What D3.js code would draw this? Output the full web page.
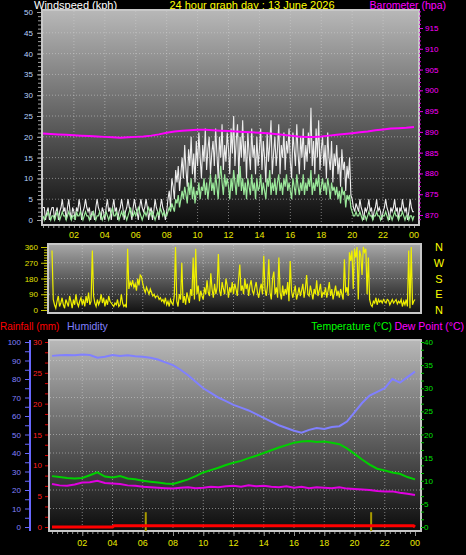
<!DOCTYPE html>
<html><head><meta charset="utf-8">
<script src="https://cdn.jsdelivr.net/npm/d3@7"></script>
<style>body{margin:0;background:#000;overflow:hidden} svg{display:block}</style>
</head><body><svg id="c" width="466" height="555"></svg>
<script>
// ---------- DATA ----------
const title = "24 hour graph day : 13 June 2026";
const hourTicks = [2,4,6,8,10,12,14,16,18,20,22,24];
const hourLabels = ["02","04","06","08","10","12","14","16","18","20","22","00"];
const compass = ["N","W","S","E","N"];
const compassDeg = [360,270,180,90,0];

// wind, 5-minute samples (kph)
const windGust = [
3,3,0,2,3,0,2,3,3,0,2,3, 0,2,3,5,2,3,0,3,5,2,0,3, 2,0,3,2,5,3,0,2,3,5,3,2,
3,0,2,2,0,3,5,3,2,0,3,2, 0,3,5,2,3,0,3,5,2,3,0,2, 3,5,3,0,2,3,5,3,2,0,3,5,
3,2,0,3,5,3,2,3,5,3,0,2, 3,0,2,5,3,2,0,3,5,3,2,0, 2,5,7,3,10,8,5,12,9,13,7,11,
15,10,18,12,8,17,13,20,11,16,9,19, 13,21,15,10,18,14,22,12,17,20,11,16,
19,13,22,16,10,20,15,23,12,18,14,21, 17,11,22,16,25,13,19,23,10,20,15,24,
14,19,10,21,16,12,22,15,18,11,20,13, 17,22,12,19,15,9,21,14,18,24,11,16,
20,13,17,23,11,18,15,21,12,19,16,22, 14,10,21,17,13,23,16,11,20,15,22,12,
18,14,21,16,27,13,19,11,22,15,24,12, 17,20,13,18,10,21,15,12,19,9,16,13,
18,11,15,8,17,12,14,7,13,10,15,6, 5,3,2,4,3,2,5,3,2,0,3,2,
3,5,2,3,0,2,3,5,2,3,2,0, 2,3,5,3,2,0,3,2,3,5,2,3, 0,3,2,5,3,2,3,0,2,5,3,2, 2];
const windAvg = [
1,0,1,1,2,1,0,1,1,0,1,2, 1,0,1,2,1,1,0,1,2,1,0,1, 1,0,2,1,1,2,1,0,1,2,1,1,
0,1,1,2,1,0,1,1,2,1,0,1, 1,2,1,0,1,2,3,1,1,2,1,0, 1,2,1,2,1,0,1,2,3,1,1,2,
1,2,3,2,1,0,1,2,1,2,3,2, 1,2,1,0,1,2,1,3,2,1,2,1, 1,2,3,2,4,3,2,5,4,6,3,5,
7,5,8,6,4,9,6,10,5,8,4,7, 6,9,5,8,7,10,6,9,5,8,11,7, 9,6,11,8,5,10,13,9,6,11,8,10,
8,5,10,7,12,9,6,11,8,13,7,10, 6,9,5,10,8,6,11,7,9,5,10,7, 8,11,6,9,7,5,10,8,12,6,9,7,
10,6,9,11,7,9,6,10,8,11,7,9, 7,5,10,8,6,11,8,6,9,7,11,6, 9,7,10,8,12,6,9,7,10,8,11,6,
8,10,7,9,6,10,8,5,9,7,8,6, 8,5,7,4,8,6,7,3,6,5,6,3, 2,1,1,2,1,1,2,1,0,1,1,0,
1,2,1,1,0,1,1,2,1,1,0,1, 1,1,2,1,0,1,1,0,1,2,1,1, 0,1,1,2,1,0,1,1,0,1,1,0, 1];
// wind direction, 5-minute samples (degrees)
const windDir = [
340,60,30,10,50,80,20,40,70,30,10,60, 40,20,80,50,10,60,30,90,40,20,50,70,
30,60,20,80,40,100,30,50,340,80,40,20, 60,30,50,90,40,70,20,60,30,80,50,40,
30,20,40,30,60,20,30,90,40,20,30,15, 350,120,160,140,170,130,150,110,180,140,200,190,
150,120,100,130,110,90,120,100,80,90,70,80, 80,60,70,50,60,40,70,30,50,20,60,40,
30,80,360,50,20,90,60,270,40,80,30,100, 70,40,120,80,300,60,350,90,140,50,110,80,
60,130,90,170,100,80,210,120,70,150,90,130, 320,110,80,160,120,90,180,140,70,130,100,160,
90,150,120,80,170,260,110,140,90,180,120,150, 80,140,170,110,90,130,160,100,70,120,150,90,
310,120,80,140,290,100,60,180,220,90,130,70, 300,100,60,140,80,120,90,160,50,280,110,70,
100,140,60,90,130,80,110,150,70,120,200,90, 80,140,100,60,120,90,170,80,110,150,70,100,
90,130,70,110,160,80,120,60,100,140,80,110, 70,120,90,60,290,100,130,80,330,280,340,120,
350,300,360,60,340,310,200,360,330,350,90,300, 60,30,20,50,40,70,30,60,45,55,40,60,
50,40,60,55,30,45,60,40,50,60,35,50, 40,60,20,50,30,60,20,340,10,360,30,50, 60];

// 30-minute samples
const baro = [889.6,889.5,889.4,889.3,889.2,889.1,889.0,888.9,888.8,888.7,888.6,888.7,888.8,888.9,889.1,889.4,
889.8,890.1,890.3,890.4,890.5,890.5,890.4,890.3,890.2,890.1,890.0,889.9,889.8,889.7,889.5,889.3,
889.1,888.9,888.8,888.8,888.9,889.1,889.3,889.5,889.7,889.9,890.1,890.4,890.6,890.8,890.9,891.0,891.2];
const humidity = [92.5,92.8,93,92.8,93.2,93,91.5,92,93,92.5,92.8,92.3,92,91.5,90.5,89,
87.5,85,82,78.5,75,72.5,70,68,66,64.5,63,61,59,57,55,53.5,
52,51,52.5,53.5,53,54,54.5,57,62,67,71,73,75,80,78,81,84];
const temperature = [11.0,10.8,10.6,10.5,10.6,11.2,11.8,10.9,10.7,11.0,10.5,10.3,10.0,9.8,9.6,9.4,
9.3,9.8,10.3,11.0,11.8,12.3,12.8,13.4,13.9,14.3,14.9,15.4,16.0,16.6,17.2,17.7,
18.2,18.5,18.6,18.4,18.5,18.2,17.9,17.0,15.8,14.6,13.5,12.6,12.2,11.8,11.5,10.8,10.3];
const dewPoint = [9.3,9.0,8.9,9.2,9.6,9.7,10.0,9.5,9.4,9.3,9.0,8.9,8.7,8.6,8.5,8.4,
8.3,8.5,8.6,8.4,8.5,8.7,8.6,8.8,8.9,8.7,9.0,8.8,8.9,8.7,8.6,8.8,
8.5,8.7,8.4,8.6,8.5,8.4,8.6,8.3,8.2,8.1,8.0,7.8,7.7,7.7,7.4,7.2,6.9];
// rainfall total (mm)
const rainHours = [0,4,4.1,23.9,24];
const rainTotal = [0,0,0.2,0.2,0];
// rain rate bars
const rateHours = [6.2,21.1];
const rateValues = [2.4,2.4];

// ---------- DRAW ----------
const svg = d3.select("#c");
const FONT = "'Liberation Sans', Arial, sans-serif";
const defs = svg.append("defs");
function grad(id, c0, c1){
  const g = defs.append("linearGradient").attr("id",id).attr("x1",0).attr("y1",0).attr("x2",0).attr("y2",1);
  g.append("stop").attr("offset","0%").attr("stop-color",c0);
  g.append("stop").attr("offset","100%").attr("stop-color",c1);
}
grad("g1","#b8b8b8","#0c0c0c");
grad("g2","#a8a8a8","#101010");
grad("g3","#b8b8b8","#0c0c0c");

function panel(x,y,w,h,id){
  svg.append("rect").attr("x",x).attr("y",y).attr("width",w).attr("height",h)
    .attr("fill",`url(#${id})`).attr("stroke","#c8c8c8").attr("stroke-width",2);
}
function txt(x,y,s,col,size,anchor){
  return svg.append("text").attr("x",x).attr("y",y).text(s).attr("fill",col)
    .attr("font-size",size).attr("font-family",FONT).attr("text-anchor",anchor||"start");
}
function gridV(xs, y0, y1){
  svg.append("g").selectAll("line").data(hourTicks.slice(0,-1)).join("line")
    .attr("x1",d=>xs(d)).attr("x2",d=>xs(d)).attr("y1",y0).attr("y2",y1)
    .attr("stroke","#d0d0d0").attr("stroke-opacity",0.55).attr("stroke-dasharray","1,2");
}
function gridH(ys, vals, x0, x1){
  svg.append("g").selectAll("line").data(vals).join("line")
    .attr("y1",d=>ys(d)).attr("y2",d=>ys(d)).attr("x1",x0).attr("x2",x1)
    .attr("stroke","#d0d0d0").attr("stroke-opacity",0.55).attr("stroke-dasharray","1,2");
}
function ticks(axisFn, scale, vals, size, tx, ty, col){
  const g = svg.append("g").attr("transform",`translate(${tx},${ty})`)
    .call(axisFn(scale).tickValues(vals).tickSize(size).tickFormat(""));
  g.select(".domain").remove();
  g.selectAll("line").attr("stroke",col);
  return g;
}
const t5 = i => i*5/60, t30 = i => i*0.5;

// titles
txt(34,9,"Windspeed (kph)","#ffffff",11);
txt(252,9,title,"#ffff00",11,"middle");
txt(446,9,"Barometer (hpa)","#ff00ff",10.5,"end");

// ===== TOP CHART =====
const xTop = d3.scaleLinear([0,24],[43,414]);
const yWind = d3.scaleLinear([0,50],[220,12]);
const yBaro = d3.scaleLinear([870,915],[215,28]);
panel(42,10,377,215,"g1");
gridV(xTop,11,224);
gridH(yWind,d3.range(5,50,5),43,418);
ticks(d3.axisLeft, yWind, d3.range(0,51,1), 3, 41, 0, "#a0a0a0");
ticks(d3.axisLeft, yWind, d3.range(0,51,5), 4, 41, 0, "#a0a0a0");
svg.append("g").selectAll("text").data(d3.range(0,51,5)).join("text")
  .attr("x",33).attr("y",d=>yWind(d)+3).text(d=>d).attr("fill","#b8d4ff")
  .attr("font-size",8).attr("font-family",FONT).attr("text-anchor","end");
ticks(d3.axisRight, yBaro, d3.range(869,920,1), 2, 419, 0, "#e000e0");
ticks(d3.axisRight, yBaro, d3.range(870,916,5), 4, 419, 0, "#e000e0");
svg.append("g").selectAll("text").data(d3.range(870,916,5)).join("text")
  .attr("x",425).attr("y",d=>yBaro(d)+3).text(d=>d).attr("fill","#ff00ff")
  .attr("font-size",8).attr("font-family",FONT);
ticks(d3.axisBottom, xTop, d3.range(0,24.01,1/3), 2, 0, 226, "#909090");
svg.append("g").selectAll("text").data(hourTicks).join("text")
  .attr("x",d=>xTop(d)).attr("y",238).text((d,i)=>hourLabels[i]).attr("fill","#e8e800")
  .attr("font-size",9).attr("font-family",FONT).attr("text-anchor","middle");
svg.append("path").datum(windGust).attr("fill","none").attr("stroke","#ececec").attr("stroke-width",1.1)
  .attr("d",d3.line().x((d,i)=>xTop(t5(i))).y(d=>yWind(d)));
svg.append("path").datum(windAvg).attr("fill","none").attr("stroke","#9ae89a").attr("stroke-width",1.2)
  .attr("d",d3.line().x((d,i)=>xTop(t5(i))).y(d=>yWind(d)));
svg.append("path").datum(baro).attr("fill","none").attr("stroke","#ff00ff").attr("stroke-width",2)
  .attr("d",d3.line().x((d,i)=>xTop(t30(i))).y(d=>yBaro(d)));

// ===== MIDDLE CHART =====
const xMid = d3.scaleLinear([0,24],[52,415]);
const yDir = d3.scaleLinear([0,360],[310,247]);
panel(48,244,373,69,"g2");
gridV(xMid,245,312);
gridH(yDir,[90,180,270],49,420);
ticks(d3.axisLeft, yDir, d3.range(0,361,15), 3, 47, 0, "#c8c800");
ticks(d3.axisLeft, yDir, d3.range(0,361,90), 6, 47, 0, "#c8c800");
svg.append("g").selectAll("text").data(d3.range(0,361,90)).join("text")
  .attr("x",38).attr("y",d=>yDir(d)+3).text(d=>d).attr("fill","#e0e000")
  .attr("font-size",8).attr("font-family",FONT).attr("text-anchor","end");
svg.append("g").selectAll("text").data(compassDeg).join("text")
  .attr("x",439).attr("y",d=>yDir(d)+4).text((d,i)=>compass[i]).attr("fill","#ffff00")
  .attr("font-size",11).attr("font-family",FONT).attr("text-anchor","middle");
svg.append("path").datum(windDir).attr("fill","none").attr("stroke","#f0f000").attr("stroke-width",1.2)
  .attr("d",d3.line().x((d,i)=>xMid(t5(i))).y(d=>yDir(d)));

// ===== BOTTOM CHART =====
const xBot = d3.scaleLinear([0,24],[52,415]);
const yHum = d3.scaleLinear([0,100],[527,342]);
const yRain = d3.scaleLinear([0,30],[527,342]);
const yTemp = d3.scaleLinear([0,40],[527,342]);
txt(0,330,"Rainfall (mm)","#ff0000",10);
txt(67,330,"Humidity","#8080ff",10.5);
txt(392,330,"Temperature (°C)","#00ff00",10.5,"end");
txt(464,330,"Dew Point (°C)","#ff00ff",10.5,"end");
panel(49,340,372,191,"g3");
gridV(xBot,341,530);
gridH(yHum,d3.range(10,100,10),50,420);
// humidity axis
svg.append("line").attr("x1",30).attr("x2",30).attr("y1",340).attr("y2",531).attr("stroke","#6868ff").attr("stroke-width",2);
ticks(d3.axisLeft, yHum, d3.range(0,101,5), 4, 29, 0, "#6868ff");
svg.append("g").selectAll("text").data(d3.range(0,101,10)).join("text")
  .attr("x",21).attr("y",d=>yHum(d)+3).text(d=>d).attr("fill","#8080ff")
  .attr("font-size",8).attr("font-family",FONT).attr("text-anchor","end");
// rainfall axis
ticks(d3.axisLeft, yRain, d3.range(0,30.01,5/3), 3, 48, 0, "#e00000");
svg.append("g").selectAll("text").data(d3.range(0,31,5)).join("text")
  .attr("x",42).attr("y",d=>yRain(d)+3).text(d=>d).attr("fill","#ff2020")
  .attr("font-size",8).attr("font-family",FONT).attr("text-anchor","end");
// temperature axis
ticks(d3.axisRight, yTemp, d3.range(0,40.01,5/3), 3, 421, 0, "#00c000");
svg.append("g").selectAll("text").data(d3.range(0,41,5)).join("text")
  .attr("x",424).attr("y",d=>yTemp(d)+3).text(d=>d).attr("fill","#00e000")
  .attr("font-size",8).attr("font-family",FONT);
ticks(d3.axisBottom, xBot, d3.range(0,24.01,1/3), 2, 0, 532, "#909090");
ticks(d3.axisBottom, xBot, hourTicks, 4, 0, 532, "#909090");
svg.append("g").selectAll("text").data(hourTicks).join("text")
  .attr("x",d=>xBot(d)).attr("y",546).text((d,i)=>hourLabels[i]).attr("fill","#e8e800")
  .attr("font-size",9).attr("font-family",FONT).attr("text-anchor","middle");
// series
svg.append("path").datum(humidity).attr("fill","none").attr("stroke","#8080ff").attr("stroke-width",2)
  .attr("d",d3.line().x((d,i)=>xBot(t30(i))).y(d=>yHum(d)));
svg.append("path").datum(temperature).attr("fill","none").attr("stroke","#00d000").attr("stroke-width",2)
  .attr("d",d3.line().x((d,i)=>xBot(t30(i))).y(d=>yTemp(d)));
svg.append("path").datum(dewPoint).attr("fill","none").attr("stroke","#e000e0").attr("stroke-width",2)
  .attr("d",d3.line().x((d,i)=>xBot(t30(i))).y(d=>yTemp(d)));
svg.append("g").selectAll("line").data(rateValues).join("line")
  .attr("x1",(d,i)=>xBot(rateHours[i])).attr("x2",(d,i)=>xBot(rateHours[i]))
  .attr("y1",531).attr("y2",d=>yRain(d)).attr("stroke","#a89a00").attr("stroke-width",2);
svg.append("path").datum(rainTotal).attr("fill","none").attr("stroke","#ff0000").attr("stroke-width",3)
  .attr("d",d3.line().x((d,i)=>xBot(rainHours[i])).y(d=>yRain(d)));
</script></body></html>
